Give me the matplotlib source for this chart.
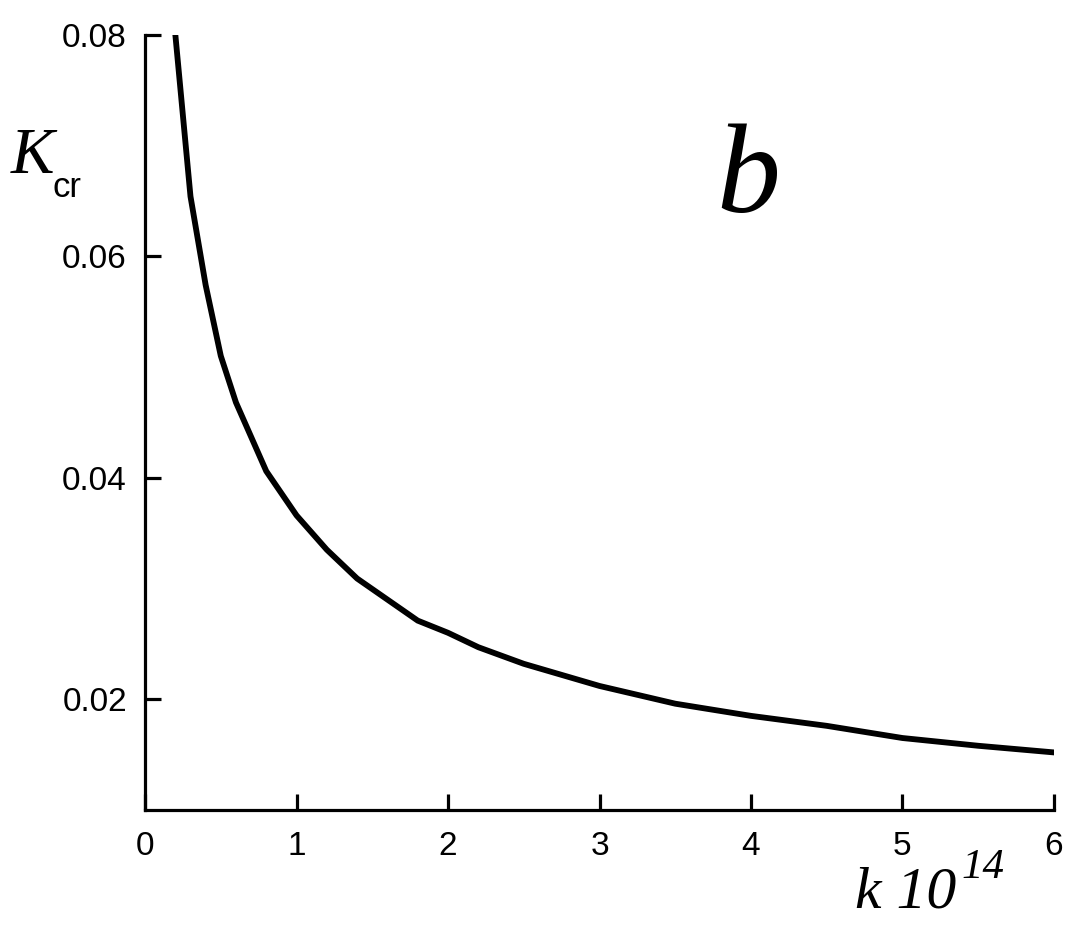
import numpy as np
import matplotlib
matplotlib.use('Agg')
import matplotlib.pyplot as plt

k_vals = [0.2, 0.3, 0.4, 0.5, 0.6, 0.8, 1.0, 1.2, 1.4, 1.8, 2.0, 2.2, 2.5, 3.0, 3.5, 4.0, 4.5, 5.0, 5.5, 6.0]
K_cr = [0.0800, 0.0654, 0.0574, 0.0510, 0.0468, 0.0406, 0.0366, 0.0335, 0.0309, 0.0271, 0.0260, 0.0247,
        0.0232, 0.0212, 0.0196, 0.0185, 0.0176, 0.0165, 0.0158, 0.0152]
xticks = [0, 1, 2, 3, 4, 5, 6]
yticks = [0.02, 0.04, 0.06, 0.08]
ytick_labels = ['0.02', '0.04', '0.06', '0.08']


def main():
    fig = plt.figure(figsize=(10.8, 9.36), dpi=100)
    ax = fig.add_axes([0.1343, 0.1346, 0.9759 - 0.1343, 0.9629 - 0.1346])
    ax.plot(k_vals, K_cr, color='black', lw=4.2, solid_joinstyle='miter')
    ax.set_xlim(0, 6)
    ax.set_ylim(0.01, 0.08)
    ax.set_xticks(xticks)
    ax.set_yticks(yticks)
    ax.set_yticklabels(ytick_labels)
    for s in ['top', 'right']:
        ax.spines[s].set_visible(False)
    for s in ['left', 'bottom']:
        ax.spines[s].set_linewidth(2.3)
    ax.tick_params(direction='in', length=11.5, width=2.3, labelsize=24)
    ax.tick_params(axis='y', pad=13)
    ax.tick_params(axis='x', pad=15)
    for lab in ax.get_xticklabels() + ax.get_yticklabels():
        lab.set_family('Liberation Sans')

    # axis labels placed like the original
    fig.text(11 / 1080, 1 - 173 / 936, 'K', family='Liberation Serif', style='italic',
             fontsize=47, ha='left', va='baseline')
    fig.text(52 / 1080, 1 - 197 / 936, 'cr', family='Liberation Sans',
             fontsize=25, ha='left', va='baseline')
    fig.text(855 / 1080, 1 - 908 / 936, 'k 10', family='Liberation Serif', style='italic',
             fontsize=43, ha='left', va='baseline')
    fig.text(961 / 1080, 1 - 878 / 936, '14', family='Liberation Serif', style='italic',
             fontsize=31, ha='left', va='baseline')
    fig.text(716 / 1080, 1 - 212 / 936, 'b', family='Liberation Serif', style='italic',
             fontsize=92, ha='left', va='baseline')

    fig.savefig('out.png', dpi=100)


if __name__ == '__main__':
    main()
